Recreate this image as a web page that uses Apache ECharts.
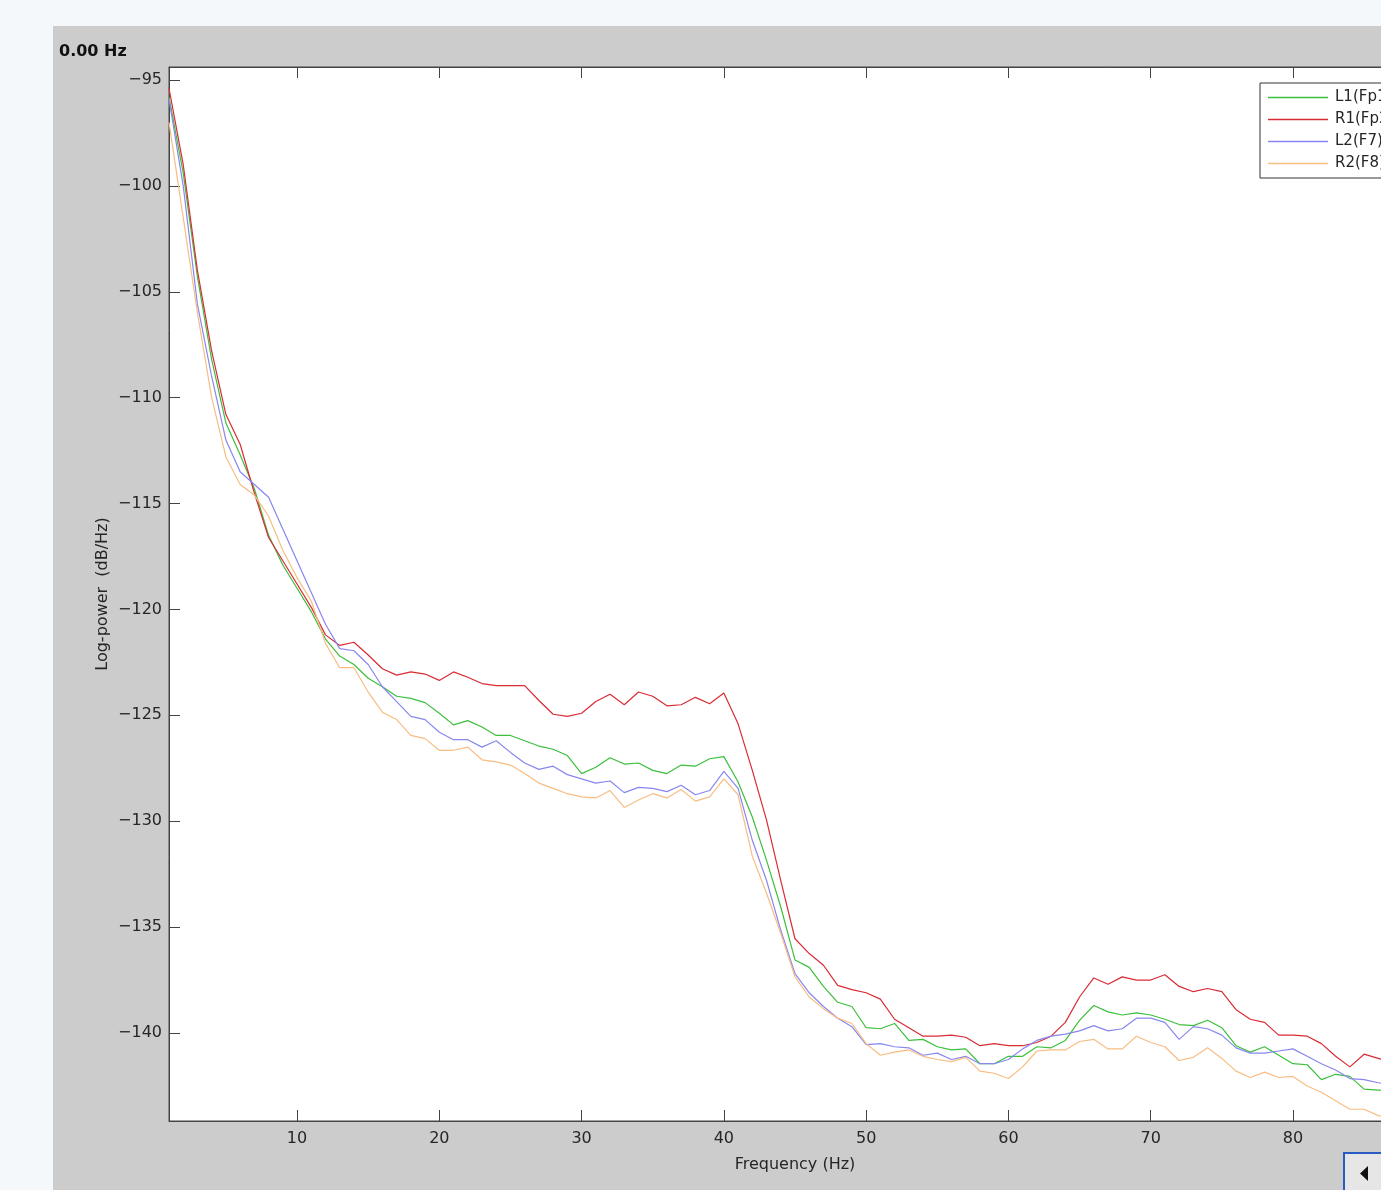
<!DOCTYPE html>
<html><head><meta charset="utf-8">
<script src="https://cdn.jsdelivr.net/npm/echarts@6/dist/echarts.min.js"></script>
<style>html,body{margin:0;padding:0;background:#f5f8fa;overflow:hidden;width:1381px;height:1190px}#c{width:1440px;height:1190px}</style>
</head><body><div id="c"></div>
<script>
// Frequency bins (Hz)
const freqs = [1,2,3,4,5,6,7,8,9,10,11,12,13,14,15,16,17,18,19,20,21,22,23,24,25,26,27,28,29,30,
  31,32,33,34,35,36,37,38,39,40,41,42,43,44,45,46,47,48,49,50,51,52,53,54,55,56,57,58,59,60,
  61,62,63,64,65,66,67,68,69,70,71,72,73,74,75,76,77,78,79,80,81,82,83,84,85,86,87];

const seriesNames = ['L1(Fp1)', 'R1(Fp2)', 'L2(F7)', 'R2(F8)'];

const L1 = [-95.8,-99.4,-104.3,-108.2,-111.2,-112.7,-114.3,-116.5,-117.9,-119.0,-120.1,-121.4,-122.2,-122.6,-123.25,-123.65,-124.1,-124.2,-124.4,-124.9,
  -125.45,-125.25,-125.55,-125.95,-125.95,-126.2,-126.45,-126.6,-126.9,-127.75,-127.45,-127.0,-127.3,-127.25,-127.6,-127.75,-127.35,-127.4,-127.05,-126.95,
  -128.15,-129.8,-131.85,-134.05,-136.55,-136.9,-137.8,-138.55,-138.75,-139.75,-139.8,-139.55,-140.35,-140.3,-140.65,-140.8,-140.75,-141.45,-141.45,-141.1,
  -141.1,-140.65,-140.7,-140.35,-139.4,-138.7,-139.0,-139.15,-139.05,-139.15,-139.35,-139.6,-139.65,-139.4,-139.75,-140.6,-140.9,-140.65,-141.05,-141.45,
  -141.5,-142.2,-141.95,-142.05,-142.65,-142.7,-142.7];

const R1 = [-95.4,-99.0,-104.0,-107.8,-110.8,-112.2,-114.5,-116.6,-117.7,-118.8,-119.9,-121.2,-121.7,-121.55,-122.15,-122.8,-123.1,-122.95,-123.05,-123.35,
  -122.95,-123.2,-123.5,-123.6,-123.6,-123.6,-124.3,-124.95,-125.05,-124.9,-124.35,-124.0,-124.5,-123.9,-124.1,-124.55,-124.5,-124.15,-124.45,-123.95,
  -125.4,-127.6,-129.95,-132.8,-135.55,-136.25,-136.8,-137.75,-137.95,-138.1,-138.4,-139.35,-139.75,-140.15,-140.15,-140.1,-140.2,-140.6,-140.5,-140.6,
  -140.6,-140.45,-140.15,-139.5,-138.3,-137.4,-137.7,-137.35,-137.5,-137.5,-137.25,-137.8,-138.05,-137.9,-138.05,-138.9,-139.35,-139.5,-140.1,-140.1,
  -140.15,-140.5,-141.1,-141.6,-141.0,-141.2,-141.4];

const L2 = [-95.9,-100.0,-105.6,-109.0,-112.0,-113.5,-114.1,-114.7,-116.2,-117.7,-119.2,-120.7,-121.85,-121.95,-122.6,-123.65,-124.35,-125.05,-125.2,-125.8,
  -126.15,-126.15,-126.5,-126.2,-126.75,-127.25,-127.55,-127.4,-127.8,-128.0,-128.2,-128.1,-128.65,-128.4,-128.45,-128.6,-128.3,-128.75,-128.55,-127.65,
  -128.45,-130.9,-132.8,-135.15,-137.2,-138.1,-138.75,-139.3,-139.7,-140.55,-140.5,-140.65,-140.7,-141.05,-140.95,-141.25,-141.1,-141.45,-141.45,-141.25,
  -140.75,-140.35,-140.15,-140.05,-139.9,-139.65,-139.9,-139.8,-139.3,-139.3,-139.5,-140.3,-139.7,-139.8,-140.1,-140.7,-140.95,-140.95,-140.85,-140.75,
  -141.1,-141.45,-141.75,-142.15,-142.2,-142.35,-142.45];

const R2 = [-97.0,-101.5,-106.0,-110.0,-112.8,-114.1,-114.6,-115.6,-117.2,-118.5,-119.6,-121.6,-122.75,-122.75,-123.9,-124.85,-125.2,-125.95,-126.1,-126.65,
  -126.65,-126.5,-127.1,-127.2,-127.35,-127.75,-128.2,-128.45,-128.7,-128.85,-128.9,-128.55,-129.35,-129.0,-128.7,-128.9,-128.5,-129.05,-128.85,-128.0,
  -128.75,-131.65,-133.4,-135.3,-137.35,-138.3,-138.85,-139.3,-139.55,-140.5,-141.05,-140.9,-140.8,-141.1,-141.25,-141.35,-141.15,-141.8,-141.9,-142.15,
  -141.6,-140.85,-140.8,-140.8,-140.4,-140.3,-140.75,-140.75,-140.15,-140.45,-140.65,-141.3,-141.15,-140.7,-141.2,-141.8,-142.1,-141.85,-142.1,-142.05,
  -142.5,-142.8,-143.2,-143.6,-143.6,-143.9,-144.0];

const xTicks = [10,20,30,40,50,60,70,80];
const yTicks = [-140,-135,-130,-125,-120,-115,-110,-105,-100,-95];

const colors = ['#3cbf3c', '#d92b34', '#8787ef', '#f7bd83'];
const values = [L1, R1, L2, R2];

const axisColor = '#444444';
const txtColor = '#262626';
const font = 'DejaVu Sans';

const chart = echarts.init(document.getElementById('c'), null, {renderer: 'canvas'});

const series = seriesNames.map((name, i) => ({
  name: name,
  type: 'line',
  data: freqs.map((f, j) => [f, values[i][j]]),
  symbol: 'none',
  showSymbol: false,
  smooth: false,
  animation: false,
  color: colors[i],
  itemStyle: {color: colors[i]},
  lineStyle: {width: 1.2, color: colors[i]},
  clip: true
}));

chart.setOption({
  animation: false,
  backgroundColor: '#cccccc',
  color: colors,
  graphic: [
    {type: 'rect', shape: {x: 0, y: 0, width: 1440, height: 26}, style: {fill: '#f5f8fa'}, silent: true},
    {type: 'rect', shape: {x: 0, y: 0, width: 53, height: 1190}, style: {fill: '#f5f8fa'}, silent: true},
    {type: 'text', left: 59, top: 44, style: {text: '0.00 Hz', font: 'bold 16px "DejaVu Sans"', fill: '#111111'}},
    {type: 'rect', shape: {x: 1344, y: 1153, width: 60, height: 60}, style: {fill: '#e6e6e6', stroke: '#2a5bc4', lineWidth: 2}, silent: true},
    {type: 'polygon', shape: {points: [[1368, 1166], [1368, 1181], [1360, 1173.5]]}, style: {fill: '#111111'}, silent: true}
  ],
  grid: {
    left: 169, top: 67, right: 19, bottom: 69,
    show: true, backgroundColor: '#ffffff', borderColor: axisColor, borderWidth: 1
  },
  legend: {
    orient: 'vertical',
    left: 1260, top: 83,
    data: seriesNames.map((n, i) => ({name: n, icon: 'path://M0,0L60,0L60,1.3L0,1.3Z', itemStyle: {color: colors[i]}})),
    itemWidth: 60, itemHeight: 14, itemGap: 7,
    padding: [7, 20, 7, 8],
    backgroundColor: '#ffffff',
    borderColor: '#333333', borderWidth: 1, borderRadius: 0,
    textStyle: {fontFamily: font, fontSize: 15, color: txtColor, padding: [0, 0, 0, 2]},
    selectedMode: false
  },
  xAxis: [{
    type: 'value', min: 1, max: 89, position: 'bottom',
    name: 'Frequency (Hz)', nameLocation: 'middle', nameGap: 36,
    nameTextStyle: {fontFamily: font, fontSize: 16, color: txtColor},
    axisLine: {show: true, onZero: false, lineStyle: {color: axisColor, width: 1}},
    axisTick: {show: true, inside: true, length: 11, customValues: xTicks, lineStyle: {color: axisColor}},
    axisLabel: {show: true, customValues: xTicks, margin: 10, fontFamily: font, fontSize: 16, color: txtColor},
    splitLine: {show: false}
  }, {
    type: 'value', min: 1, max: 89, position: 'top',
    axisLine: {show: true, onZero: false, lineStyle: {color: axisColor, width: 1}},
    axisTick: {show: true, inside: true, length: 11, customValues: xTicks, lineStyle: {color: axisColor}},
    axisLabel: {show: false, customValues: xTicks},
    splitLine: {show: false}
  }],
  yAxis: [{
    type: 'value', min: -144.155, max: -94.386, position: 'left',
    name: 'Log-power  (dB/Hz)', nameLocation: 'middle', nameGap: 58, nameRotate: 90,
    nameMoveOverlap: false,
    nameTextStyle: {fontFamily: font, fontSize: 16, color: txtColor},
    axisLine: {show: true, onZero: false, lineStyle: {color: axisColor, width: 1}},
    axisTick: {show: true, inside: true, length: 11, customValues: yTicks, lineStyle: {color: axisColor}},
    axisLabel: {show: true, customValues: yTicks, margin: 7, fontFamily: font, fontSize: 16, color: txtColor,
      formatter: v => String(Math.round(v)).replace('-', '\u2212')},
    splitLine: {show: false}
  }],
  series: series
});
</script>
</body></html>
